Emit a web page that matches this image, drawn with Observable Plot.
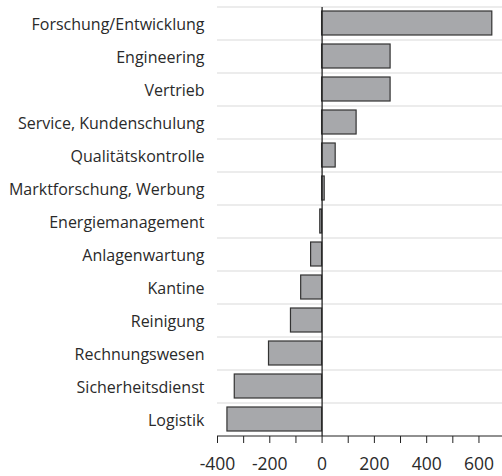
<!DOCTYPE html>
<html><head><meta charset="utf-8">
<script src="https://cdn.jsdelivr.net/npm/d3@7"></script>
<script src="https://cdn.jsdelivr.net/npm/@observablehq/plot@0.6"></script>
<style>body{margin:0;background:#fff}</style>
</head><body><div id="chart"></div>
<script>
const categories = ["Forschung/Entwicklung","Engineering","Vertrieb","Service, Kundenschulung","Qualitätskontrolle","Marktforschung, Werbung","Energiemanagement","Anlagenwartung","Kantine","Reinigung","Rechnungswesen","Sicherheitsdienst","Logistik"];
const values = [651, 262, 262, 132, 52, 10, -7, -42, -80, -119, -203, -334, -362];
const xTicks = [-400,-300,-200,-100,0,100,200,300,400,500,600];
const xLabels = [-400,-200,0,200,400,600];

const data = categories.map((c,i)=>({cat:c, v:values[i]}));
const step = 33;
const chart = Plot.plot({
  width: 502, height: 476,
  marginTop: 7, marginBottom: 40, marginLeft: 217, marginRight: 0,
  style: {fontFamily: "Open Sans", background: "#fff"},
  x: {domain: [-400, 690]},
  y: {domain: categories, paddingInner: 0.26, paddingOuter: 0.13},
  marks: [
    Plot.ruleY(categories, {y: d=>d, dy: -step/2, stroke: "#d9d9d9", strokeWidth: 1.2}),
    Plot.barX(data, {y: "cat", x: "v", fill: "#a7a8ab", stroke: "#333", strokeWidth: 1.2}),
    Plot.ruleY([categories[categories.length-1]], {y: d=>d, dy: step/2, stroke: "#222", strokeWidth: 1.2}),
    Plot.ruleX([0], {stroke: "#222", strokeWidth: 1.3}),
    Plot.axisY({tickSize: 0, tickPadding: 13, fontSize: 16, fill: "#2a2a2a", label: null, dy: 1.5}),
    Plot.axisX({ticks: xTicks, tickSize: 7, tickPadding: 14, fontSize: 17.5, fill: "#2a2a2a", stroke: "#222", label: null,
      tickFormat: d => xLabels.includes(d) ? String(d) : ""})
  ]
});
document.getElementById("chart").appendChild(chart);
</script></body></html>
